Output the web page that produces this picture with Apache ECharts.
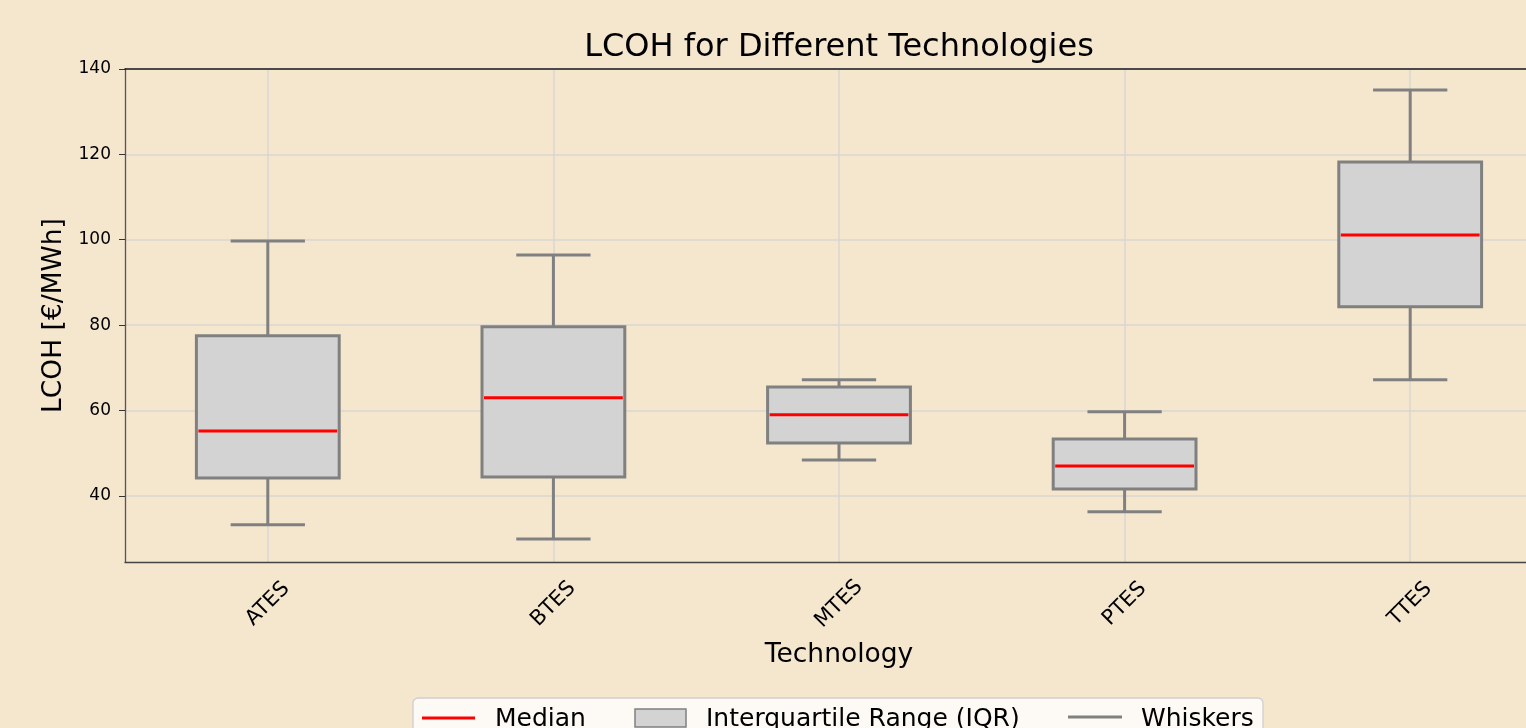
<!DOCTYPE html>
<html lang="en">
<head>
    <meta charset="UTF-8">
    <title>LCOH for Different Technologies</title>
    <script src="https://cdn.jsdelivr.net/npm/echarts@6/dist/echarts.min.js"></script>
    <style>
        html, body { margin: 0; padding: 0; background: #f5e6ce; }
        #chart { width: 1526px; height: 728px; }
    </style>
</head>
<body>
<div id="chart"></div>
<script type="text/javascript">
    // data
    var technologies = ['ATES', 'BTES', 'MTES', 'PTES', 'TTES'];
    var whiskerLow = [33.2, 29.9, 48.4, 36.3, 67.2];
    var q1 = [44.2, 44.4, 52.4, 41.6, 84.3];
    var median = [55.2, 63.0, 59.0, 47.0, 101.1];
    var q3 = [77.5, 79.6, 65.5, 53.3, 118.2];
    var whiskerHigh = [99.7, 96.4, 67.2, 59.7, 135.1];
    var yTicks = [40, 60, 80, 100, 120, 140];

    var font = 'DejaVu Sans';
    var boxData = technologies.map(function (t, i) {
        return [i, whiskerLow[i], q1[i], median[i], q3[i], whiskerHigh[i]];
    });

    function bandWidth(api, frac) {
        return api.size([1, 0])[0] * frac;
    }

    function renderWhiskers(params, api) {
        var x = api.value(0);
        var lo = api.coord([x, api.value(1)]);
        var b1 = api.coord([x, api.value(2)]);
        var b3 = api.coord([x, api.value(4)]);
        var hi = api.coord([x, api.value(5)]);
        var half = bandWidth(api, 0.26) / 2;
        var style = { stroke: '#808080', lineWidth: 3 };
        return {
            type: 'group',
            children: [
                { type: 'line', shape: { x1: lo[0], y1: lo[1], x2: b1[0], y2: b1[1] }, style: style },
                { type: 'line', shape: { x1: b3[0], y1: b3[1], x2: hi[0], y2: hi[1] }, style: style },
                { type: 'line', shape: { x1: lo[0] - half, y1: lo[1], x2: lo[0] + half, y2: lo[1] }, style: style },
                { type: 'line', shape: { x1: hi[0] - half, y1: hi[1], x2: hi[0] + half, y2: hi[1] }, style: style }
            ]
        };
    }

    function renderBox(params, api) {
        var x = api.value(0);
        var b1 = api.coord([x, api.value(2)]);
        var b3 = api.coord([x, api.value(4)]);
        var w = bandWidth(api, 0.5);
        return {
            type: 'rect',
            shape: { x: b1[0] - w / 2, y: b3[1], width: w, height: b1[1] - b3[1] },
            style: { fill: '#d3d3d3', stroke: '#808080', lineWidth: 3 }
        };
    }

    function renderMedian(params, api) {
        var x = api.value(0);
        var m = api.coord([x, api.value(3)]);
        var w = bandWidth(api, 0.5);
        return {
            type: 'line',
            shape: { x1: m[0] - w / 2 + 2, y1: m[1], x2: m[0] + w / 2 - 2, y2: m[1] },
            style: { stroke: '#ff0000', lineWidth: 3 }
        };
    }

    var chart = echarts.init(document.getElementById('chart'));
    var option = {
        backgroundColor: '#f5e6ce',
        animation: false,
        title: {
            text: 'LCOH for Different Technologies',
            left: 834,
            textAlign: 'center',
            top: 27,
            textStyle: { fontFamily: font, fontSize: 32, fontWeight: 'normal', color: '#000' }
        },
        grid: {
            left: 125,
            top: 69,
            width: 1428,
            height: 493,
            outerBoundsMode: 'none',
            containLabel: false
        },
        xAxis: [{
            type: 'category',
            data: technologies,
            name: 'Technology',
            nameLocation: 'middle',
            nameGap: 80,
            nameTextStyle: { fontFamily: font, fontSize: 26.5, color: '#000' },
            axisLine: { lineStyle: { color: '#444', width: 1.3 } },
            axisTick: { alignWithLabel: true, length: 6, lineStyle: { color: '#333' } },
            axisLabel: {
                rotate: 45,
                align: 'center',
                verticalAlign: 'middle',
                margin: 42,
                interval: 0,
                fontFamily: font,
                fontSize: 21,
                color: '#000'
            },
            splitLine: { show: true, interval: 0, alignWithLabel: true, lineStyle: { color: '#d9d6d0', width: 1.5 } }
        }, {
            // top frame line
            type: 'category',
            data: technologies,
            position: 'top',
            axisLine: { show: true, lineStyle: { color: '#1a1a1a', width: 1.5 } },
            axisTick: { show: false },
            axisLabel: { show: false },
            splitLine: { show: false }
        }],
        yAxis: {
            type: 'value',
            min: 24.5,
            max: 140,
            name: 'LCOH [€/MWh]',
            nameLocation: 'middle',
            nameGap: 48,
            nameTextStyle: { fontFamily: font, fontSize: 26.5, color: '#000' },
            axisLine: { show: true, lineStyle: { color: '#555', width: 1.3 } },
            axisTick: { show: true, length: 6, customValues: yTicks, lineStyle: { color: '#333' } },
            axisLabel: { customValues: yTicks, margin: 14, fontFamily: font, fontSize: 17, color: '#000' },
            splitLine: { show: true, lineStyle: { color: '#d9d6d0', width: 1.5 } }
        },
        series: [
            { name: 'Whiskers', type: 'custom', renderItem: renderWhiskers, data: boxData, z: 2 },
            { name: 'Interquartile Range (IQR)', type: 'custom', renderItem: renderBox, data: boxData, z: 3 },
            { name: 'Median', type: 'custom', renderItem: renderMedian, data: boxData, z: 4 }
        ],
        graphic: [
            { type: 'rect', z: 100, shape: { x: 413, y: 698, width: 850, height: 50, r: 5 },
              style: { fill: 'rgba(255,255,255,0.8)', stroke: '#cfcfcf', lineWidth: 1.3 } },
            { type: 'line', z: 101, shape: { x1: 422, y1: 718, x2: 475, y2: 718 }, style: { stroke: '#ff0000', lineWidth: 3 } },
            { type: 'text', z: 101, x: 495, y: 719, style: { text: 'Median', fontFamily: font, fontSize: 25, fill: '#000', verticalAlign: 'middle' } },
            { type: 'rect', z: 101, shape: { x: 635, y: 709, width: 51, height: 18 }, style: { fill: '#d3d3d3', stroke: '#808080', lineWidth: 1.5 } },
            { type: 'text', z: 101, x: 706, y: 719, style: { text: 'Interquartile Range (IQR)', fontFamily: font, fontSize: 25, fill: '#000', verticalAlign: 'middle' } },
            { type: 'line', z: 101, shape: { x1: 1068, y1: 717, x2: 1122, y2: 717 }, style: { stroke: '#808080', lineWidth: 3 } },
            { type: 'text', z: 101, x: 1141, y: 719, style: { text: 'Whiskers', fontFamily: font, fontSize: 25, fill: '#000', verticalAlign: 'middle' } }
        ]
    };

    option && chart.setOption(option);
</script>
</body>
</html>
